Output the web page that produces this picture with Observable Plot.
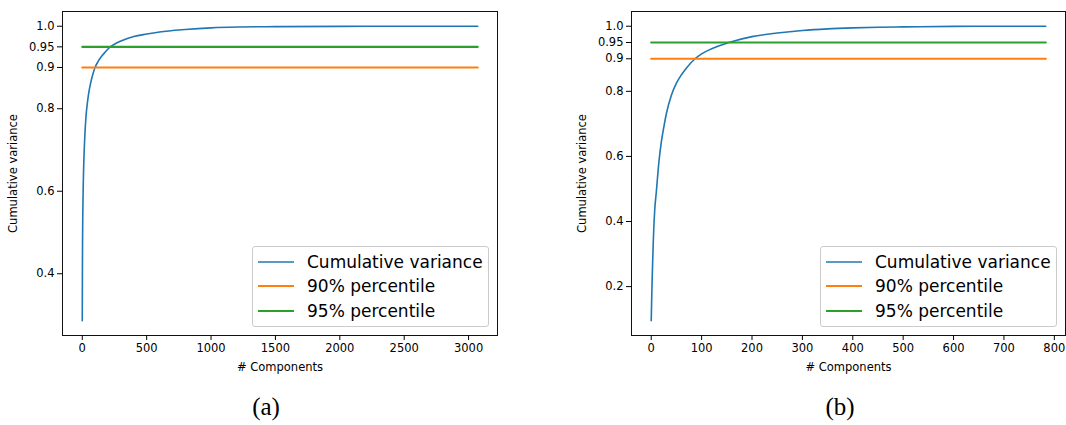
<!DOCTYPE html>
<html>
<head>
<meta charset="utf-8">
<script src="https://cdn.jsdelivr.net/npm/d3@7"></script>
<script src="https://cdn.jsdelivr.net/npm/@observablehq/plot@0.6"></script>
<style>
  html, body { margin: 0; padding: 0; background: #fff; }
  #root { position: relative; width: 1066px; height: 425px; overflow: hidden; font-family: "DejaVu Sans", sans-serif; }
  .panel { position: absolute; top: 0; }
  .legend { position: absolute; border: 1px solid #cccccc; border-radius: 3px; background: rgba(255,255,255,0.8); box-sizing: border-box; }
  .legend .row { position: absolute; left: 0; height: 24px; display: flex; align-items: center; font-size: 17px; color: #000; white-space: nowrap; }
  .caption { position: absolute; font-family: "Liberation Serif", "Times New Roman", serif; font-size: 25px; color: #000; transform: translateX(-50%); }
</style>
</head>
<body>
<div id="root"></div>
<script>
// ---------- data ----------
// (a) cumulative explained variance vs number of components
const cifarComponents = [0, 1, 2, 3, 4, 5, 7, 10, 15, 20, 30, 40, 50, 60, 70, 80, 99, 120, 150, 180, 217, 260, 300, 400, 500, 600, 800, 1000, 1200, 1500, 2000, 2500, 3071];
const cifarVariance   = [0.286, 0.400, 0.468, 0.507, 0.540, 0.566, 0.606, 0.650, 0.700, 0.735, 0.785, 0.815, 0.838, 0.855, 0.869, 0.881, 0.900, 0.913, 0.927, 0.938, 0.950, 0.958, 0.964, 0.975, 0.981, 0.986, 0.992, 0.996, 0.998, 0.999, 0.9997, 0.9999, 1.0];
// (b)
const mnistComponents = [0, 1, 2, 3, 4, 5, 7, 10, 15, 20, 25, 30, 40, 50, 60, 70, 87, 100, 120, 154, 200, 250, 300, 350, 400, 450, 500, 600, 700, 783];
const mnistVariance   = [0.095, 0.168, 0.230, 0.284, 0.333, 0.376, 0.437, 0.489, 0.579, 0.644, 0.690, 0.731, 0.788, 0.825, 0.851, 0.872, 0.900, 0.915, 0.931, 0.950, 0.968, 0.979, 0.987, 0.992, 0.995, 0.997, 0.998, 0.9995, 0.9999, 1.0];

const thresholds = [0.9, 0.95];
const seriesNames = ["Cumulative variance", "90% percentile", "95% percentile"];
const seriesColors = ["#1f77b4", "#ff7f0e", "#2ca02c"];

const xTicksA = [0, 500, 1000, 1500, 2000, 2500, 3000];
const yTicksA = [0.4, 0.6, 0.8, 0.9, 0.95, 1.0];
const xTicksB = [0, 100, 200, 300, 400, 500, 600, 700, 800];
const yTicksB = [0.2, 0.4, 0.6, 0.8, 0.9, 0.95, 1.0];
const yTickLabel = d => (d === 1 ? "1.0" : String(d));

const captions = ["(a)", "(b)"];

// ---------- helpers ----------
function pad(extent) {
  const r = extent[1] - extent[0];
  return [extent[0] - 0.05 * r, extent[1] + 0.05 * r];
}

function panel({comps, vals, xTicks, yTicks, width, marginLeft, marginRight}) {
  const curve = comps.map((c, i) => ({x: c, y: vals[i]}));
  const xExt = [comps[0], comps[comps.length - 1]];
  const yExt = d3.extent(vals);
  const lines = thresholds.map(t => [{x: xExt[0], y: t}, {x: xExt[1], y: t}]);
  return Plot.plot({
    width, height: 375,
    marginLeft, marginRight, marginTop: 11, marginBottom: 40,
    style: {fontFamily: "DejaVu Sans, sans-serif", fontSize: "11.5px", color: "#000", background: "transparent", overflow: "visible"},
    x: {domain: pad(xExt)},
    y: {domain: pad(yExt)},
    marks: [
      Plot.line(curve, {x: "x", y: "y", stroke: seriesColors[0], strokeWidth: 1.6, curve: "monotone-x"}),
      Plot.line(lines[0], {x: "x", y: "y", stroke: seriesColors[1], strokeWidth: 2.2}),
      Plot.line(lines[1], {x: "x", y: "y", stroke: seriesColors[2], strokeWidth: 2.2}),
      Plot.frame({stroke: "#111", strokeWidth: 1}),
      Plot.axisX({ticks: xTicks, tickFormat: d => String(d), tickSize: 5, tickPadding: 3,
        label: "# Components", labelAnchor: "center", labelArrow: "none", labelOffset: 35}),
      Plot.axisY({ticks: yTicks, tickFormat: yTickLabel, tickSize: 5, tickPadding: 3,
        label: "Cumulative variance", labelAnchor: "center", labelArrow: "none", labelOffset: 54})
    ]
  });
}

function legend(left, top) {
  const box = document.createElement("div");
  box.className = "legend";
  box.style.left = left + "px";
  box.style.top = top + "px";
  box.style.width = "237px";
  box.style.height = "81px";
  seriesNames.forEach((name, i) => {
    const row = document.createElement("div");
    row.className = "row";
    row.style.top = (2.5 + i * 24.6) + "px";
    const sw = document.createElementNS("http://www.w3.org/2000/svg", "svg");
    sw.setAttribute("width", 50); sw.setAttribute("height", 24);
    sw.style.marginLeft = "4px";
    const ln = document.createElementNS("http://www.w3.org/2000/svg", "line");
    ln.setAttribute("x1", 1); ln.setAttribute("x2", 37);
    ln.setAttribute("y1", 12); ln.setAttribute("y2", 12);
    ln.setAttribute("stroke", seriesColors[i]);
    ln.setAttribute("stroke-width", i === 0 ? 1.6 : 2.2);
    sw.appendChild(ln);
    row.appendChild(sw);
    const t = document.createElement("span");
    t.textContent = name;
    row.appendChild(t);
    box.appendChild(row);
  });
  return box;
}

// ---------- render ----------
const root = document.getElementById("root");

const pa = panel({comps: cifarComponents, vals: cifarVariance, xTicks: xTicksA, yTicks: yTicksA, width: 533, marginLeft: 62, marginRight: 36});
const wa = document.createElement("div"); wa.className = "panel"; wa.style.left = "0px"; wa.appendChild(pa); root.appendChild(wa);

const pb = panel({comps: mnistComponents, vals: mnistVariance, xTicks: xTicksB, yTicks: yTicksB, width: 533, marginLeft: 98, marginRight: 1});
const wb = document.createElement("div"); wb.className = "panel"; wb.style.left = "533px"; wb.appendChild(pb); root.appendChild(wb);

root.appendChild(legend(252, 246));
root.appendChild(legend(820, 246));

[[266, captions[0]], [840, captions[1]]].forEach(([cx, txt]) => {
  const c = document.createElement("div");
  c.className = "caption";
  c.style.left = cx + "px";
  c.style.top = "393px";
  c.textContent = txt;
  root.appendChild(c);
});
</script>
</body>
</html>
